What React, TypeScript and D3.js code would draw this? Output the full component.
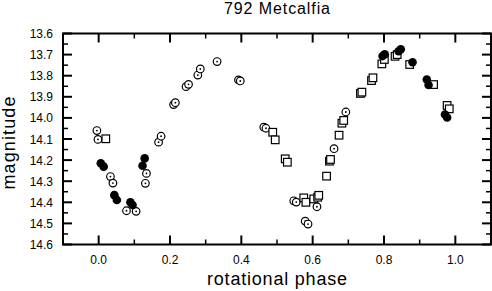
import React from "react";
import * as d3 from "d3";

const title = "792 Metcalfia";
const xLabel = "rotational phase";
const yLabel = "magnitude";

const xTickValues = [0, 0.2, 0.4, 0.6, 0.8, 1.0];
const yTickValues = [13.6, 13.7, 13.8, 13.9, 14.0, 14.1, 14.2, 14.3, 14.4, 14.5, 14.6];

// open circles (with centre dot)
const openPhase = [-0.005, -0.002, 0.033, 0.040, 0.078, 0.105, 0.134, 0.131, 0.168, 0.175, 0.210, 0.215, 0.245, 0.252, 0.278, 0.285, 0.332, 0.392, 0.397, 0.463, 0.469, 0.547, 0.554, 0.579, 0.587, 0.612, 0.660, 0.693];
const openMag = [14.060, 14.102, 14.278, 14.309, 14.440, 14.443, 14.263, 14.310, 14.115, 14.087, 13.937, 13.928, 13.852, 13.841, 13.797, 13.768, 13.733, 13.820, 13.825, 14.044, 14.049, 14.393, 14.399, 14.489, 14.503, 14.421, 14.146, 13.972];

// filled circles
const filledPhase = [0.006, 0.014, 0.044, 0.051, 0.089, 0.095, 0.129, 0.123, 0.796, 0.802, 0.841, 0.847, 0.880, 0.920, 0.925, 0.971, 0.977];
const filledMag = [14.215, 14.231, 14.366, 14.389, 14.400, 14.413, 14.192, 14.227, 13.707, 13.698, 13.684, 13.675, 13.736, 13.818, 13.844, 13.984, 13.998];

// open squares
const squarePhase = [0.020, 0.488, 0.495, 0.523, 0.529, 0.575, 0.581, 0.603, 0.614, 0.617, 0.639, 0.647, 0.650, 0.674, 0.682, 0.687, 0.734, 0.738, 0.765, 0.769, 0.794, 0.801, 0.831, 0.837, 0.872, 0.939, 0.977, 0.983];
const squareMag = [14.099, 14.068, 14.104, 14.194, 14.210, 14.379, 14.400, 14.384, 14.376, 14.367, 14.276, 14.205, 14.197, 14.082, 14.025, 14.012, 13.884, 13.878, 13.823, 13.810, 13.744, 13.723, 13.708, 13.700, 13.747, 13.842, 13.941, 13.957];

const W = 492;
const H = 291;
const left = 63;
const right = 491;
const top = 33.5;
const bottom = 244.5;
const font = "Liberation Sans, Arial, sans-serif";

export default function App() {
  const x = d3.scaleLinear().domain([-0.1, 1.1]).range([left, right]);
  const y = d3.scaleLinear().domain([13.6, 14.6]).range([top, bottom]);

  const xMinor = d3.range(-1, 12).map((i) => i / 10).filter((v) => !xTickValues.some((t) => Math.abs(t - v) < 1e-6));
  const yMinor = d3.range(0, 20).map((i) => 13.65 + i * 0.1).filter((v) => v < 14.6);

  const majLen = 9;
  const minLen = 5;

  return (
    <svg width={W} height={H} style={{ position: "absolute", left: 0, top: 0, background: "#fff" }}>
      <text x={(left + right) / 2} y={14} textAnchor="middle" fontFamily={font} fontSize={16} textLength={106} lengthAdjust="spacing" fill="#000">{title}</text>

      {xTickValues.map((v) => (
        <g key={"xt" + v}>
          <line x1={x(v)} x2={x(v)} y1={bottom} y2={bottom - majLen} stroke="#000" strokeWidth={2} />
          <line x1={x(v)} x2={x(v)} y1={top} y2={top + majLen} stroke="#000" strokeWidth={2} />
          <text x={x(v)} y={bottom + 19} textAnchor="middle" fontFamily={font} fontSize={12} fill="#000">{d3.format(".1f")(v)}</text>
        </g>
      ))}
      {xMinor.map((v) => (
        <g key={"xm" + v}>
          <line x1={x(v)} x2={x(v)} y1={bottom} y2={bottom - minLen} stroke="#000" strokeWidth={1.5} />
          <line x1={x(v)} x2={x(v)} y1={top} y2={top + minLen} stroke="#000" strokeWidth={1.5} />
        </g>
      ))}
      {yTickValues.map((v) => (
        <g key={"yt" + v}>
          <line x1={left} x2={left + majLen} y1={y(v)} y2={y(v)} stroke="#000" strokeWidth={2} />
          <line x1={right} x2={right - majLen} y1={y(v)} y2={y(v)} stroke="#000" strokeWidth={2} />
          <text x={left - 10} y={y(v) + 4.5} textAnchor="end" fontFamily={font} fontSize={12} fill="#000">{d3.format(".1f")(v)}</text>
        </g>
      ))}
      {yMinor.map((v) => (
        <g key={"ym" + v}>
          <line x1={left} x2={left + minLen} y1={y(v)} y2={y(v)} stroke="#000" strokeWidth={1.5} />
          <line x1={right} x2={right - minLen} y1={y(v)} y2={y(v)} stroke="#000" strokeWidth={1.5} />
        </g>
      ))}

      <rect x={left} y={top} width={right - left} height={bottom - top} fill="none" stroke="#000" strokeWidth={2} />

      {openPhase.map((p, i) => (
        <g key={"o" + i}>
          <circle cx={x(p)} cy={y(openMag[i])} r={3.8} fill="#fff" stroke="#000" strokeWidth={1.2} />
          <circle cx={x(p)} cy={y(openMag[i])} r={0.9} fill="#000" />
        </g>
      ))}
      {squarePhase.map((p, i) => (
        <rect key={"s" + i} x={x(p) - 3.8} y={y(squareMag[i]) - 3.8} width={7.6} height={7.6} fill="#fff" stroke="#000" strokeWidth={1.2} />
      ))}
      {filledPhase.map((p, i) => (
        <circle key={"f" + i} cx={x(p)} cy={y(filledMag[i])} r={4.3} fill="#000" />
      ))}

      <text x={(left + right) / 2} y={285} textAnchor="middle" fontFamily={font} fontSize={18} textLength={140} lengthAdjust="spacing" fill="#000">{xLabel}</text>
      <text transform={`translate(15,${(top + bottom) / 2 + 4}) rotate(-90)`} textAnchor="middle" fontFamily={font} fontSize={18} textLength={93} lengthAdjust="spacing" fill="#000">{yLabel}</text>
    </svg>
  );
}
